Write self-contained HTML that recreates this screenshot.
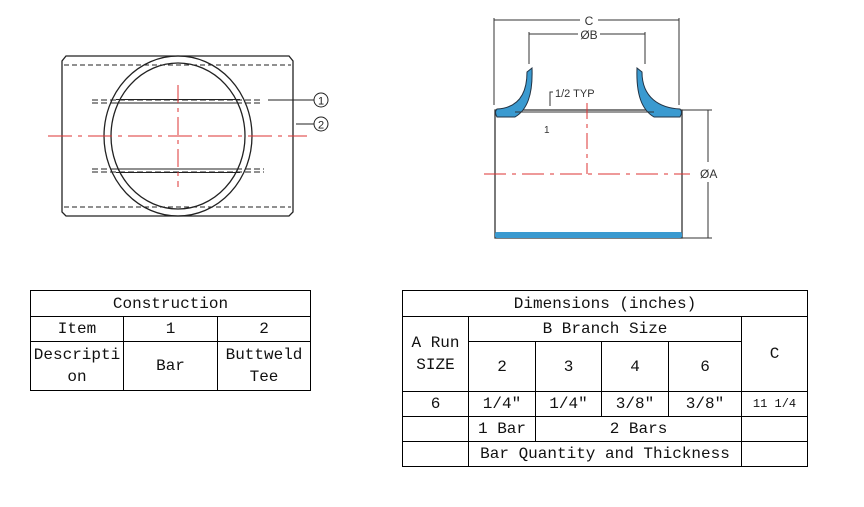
<!DOCTYPE html>
<html><head><meta charset="utf-8"><style>
body{margin:0;width:864px;height:507px;background:#fff;position:relative;overflow:hidden;font-family:"Liberation Mono","Noto Serif CJK SC",monospace;}
.c{position:absolute;border:1px solid #000;box-sizing:border-box;display:flex;align-items:center;justify-content:center;text-align:center;font-size:16px;color:#111;line-height:22px;}
</style></head><body>
<svg width="864" height="260" style="position:absolute;left:0;top:0" fill="none">
<!-- left drawing -->
<path d="M66 56 H289 L293 61 V212 L289 216 H66 L62 212 V61 Z" stroke="#222" stroke-width="1.3"/>
<line x1="64" y1="65" x2="291" y2="65" stroke="#222" stroke-dasharray="5,3"/>
<line x1="64" y1="207" x2="291" y2="207" stroke="#222" stroke-dasharray="5,3"/>
<ellipse cx="178" cy="136" rx="74" ry="80" stroke="#222" stroke-width="1.3"/>
<ellipse cx="178" cy="136" rx="67" ry="73" stroke="#222" stroke-width="1.3"/>
<path d="M92 100 H263 M92 103 H263" stroke="#222" stroke-dasharray="6,3"/>
<path d="M116 99.5 H240 M116 103 H240" stroke="#222"/>
<path d="M92 169 H264 M92 172 H264" stroke="#222" stroke-dasharray="6,3"/>
<path d="M116 169 H240 M116 172.5 H240" stroke="#222"/>
<line x1="48" y1="136" x2="307" y2="136" stroke="#d33" stroke-dasharray="24,6,4,6"/>
<line x1="178" y1="85" x2="178" y2="187" stroke="#d33" stroke-dasharray="18,5,4,5"/>
<line x1="268" y1="100" x2="314" y2="100" stroke="#222"/>
<circle cx="321" cy="100" r="7" stroke="#222"/>
<text x="321" y="104.5" font-size="11" font-family="Liberation Sans" fill="#222" text-anchor="middle">1</text>
<line x1="296" y1="124" x2="314" y2="124" stroke="#222"/>
<circle cx="321" cy="124" r="7" stroke="#222"/>
<text x="321" y="128.5" font-size="11" font-family="Liberation Sans" fill="#222" text-anchor="middle">2</text>
<!-- right drawing -->
<path d="M495 110 H682 V238 H495 Z" stroke="#333" stroke-width="1.3"/>
<rect x="495" y="232" width="187" height="6" fill="#3a9ad0" rx="2"/>
<path d="M527 72 L532 68 C533 95 527 110 515 117 L497 117 Q494 112 497 109 C515 108 527 98 527 72 Z" fill="#3a9ad0" stroke="#234"/>
<path d="M642 72 L637 68 C636 95 642 110 654 117 L680 117 Q683 112 680 109 C660 108 642 98 642 72 Z" fill="#3a9ad0" stroke="#234"/>
<line x1="515" y1="112" x2="654" y2="112" stroke="#333"/>
<line x1="494" y1="18" x2="494" y2="105" stroke="#333"/>
<line x1="679" y1="18" x2="679" y2="105" stroke="#333"/>
<line x1="494" y1="20" x2="580" y2="20" stroke="#333"/><line x1="598" y1="20" x2="679" y2="20" stroke="#333"/>
<text x="589" y="25" font-size="12" font-family="Liberation Sans" fill="#333" text-anchor="middle">C</text>
<line x1="529" y1="32" x2="529" y2="64" stroke="#333"/>
<line x1="645" y1="32" x2="645" y2="64" stroke="#333"/>
<line x1="529" y1="34" x2="578" y2="34" stroke="#333"/><line x1="600" y1="34" x2="645" y2="34" stroke="#333"/>
<text x="589" y="39" font-size="12" font-family="Liberation Sans" fill="#333" text-anchor="middle">ØB</text>
<path d="M550 106 V92 H553" stroke="#333"/>
<text x="555" y="97" font-size="11" font-family="Liberation Sans" fill="#333">1/2 TYP</text>
<text x="544" y="133" font-size="10" font-family="Liberation Sans" fill="#333">1</text>
<line x1="682" y1="110" x2="712" y2="110" stroke="#333"/>
<line x1="682" y1="238" x2="712" y2="238" stroke="#333"/>
<line x1="708" y1="110" x2="708" y2="162" stroke="#333"/><line x1="708" y1="182" x2="708" y2="238" stroke="#333"/>
<text x="700" y="178" font-size="12" font-family="Liberation Sans" fill="#333">ØA</text>
<line x1="484" y1="174" x2="690" y2="174" stroke="#d33" stroke-dasharray="22,6,4,6"/>
<line x1="587" y1="103" x2="587" y2="174" stroke="#d33" stroke-dasharray="16,5,4,5"/>
</svg>
<!-- left table -->
<div class="c" style="left:30px;top:290px;width:281px;height:27px">Construction</div>
<div class="c" style="left:30px;top:316px;width:94px;height:26px">Item</div>
<div class="c" style="left:123px;top:316px;width:95px;height:26px">1</div>
<div class="c" style="left:217px;top:316px;width:94px;height:26px">2</div>
<div class="c" style="left:30px;top:341px;width:94px;height:50px">Descripti<br>on</div>
<div class="c" style="left:123px;top:341px;width:95px;height:50px">Bar</div>
<div class="c" style="left:217px;top:341px;width:94px;height:50px">Buttweld<br>Tee</div>
<!-- right table -->
<div class="c" style="left:402px;top:290px;width:406px;height:27px">Dimensions (inches)</div>
<div class="c" style="left:402px;top:316px;width:67px;height:76px">A Run<br>SIZE</div>
<div class="c" style="left:468px;top:316px;width:274px;height:26px">B Branch Size</div>
<div class="c" style="left:741px;top:316px;width:67px;height:76px">C</div>
<div class="c" style="left:468px;top:341px;width:68px;height:51px">2</div>
<div class="c" style="left:535px;top:341px;width:67px;height:51px">3</div>
<div class="c" style="left:601px;top:341px;width:68px;height:51px">4</div>
<div class="c" style="left:668px;top:341px;width:74px;height:51px">6</div>
<div class="c" style="left:402px;top:391px;width:67px;height:26px">6</div>
<div class="c" style="left:468px;top:391px;width:68px;height:26px">1/4″</div>
<div class="c" style="left:535px;top:391px;width:67px;height:26px">1/4″</div>
<div class="c" style="left:601px;top:391px;width:68px;height:26px">3/8″</div>
<div class="c" style="left:668px;top:391px;width:74px;height:26px">3/8″</div>
<div class="c" style="left:741px;top:391px;width:67px;height:26px;font-size:12px">11 1/4</div>
<div class="c" style="left:402px;top:416px;width:67px;height:26px"></div>
<div class="c" style="left:468px;top:416px;width:68px;height:26px">1 Bar</div>
<div class="c" style="left:535px;top:416px;width:207px;height:26px">2 Bars</div>
<div class="c" style="left:741px;top:416px;width:67px;height:26px"></div>
<div class="c" style="left:402px;top:441px;width:67px;height:26px"></div>
<div class="c" style="left:468px;top:441px;width:274px;height:26px">Bar Quantity and Thickness</div>
<div class="c" style="left:741px;top:441px;width:67px;height:26px"></div>
</body></html>
